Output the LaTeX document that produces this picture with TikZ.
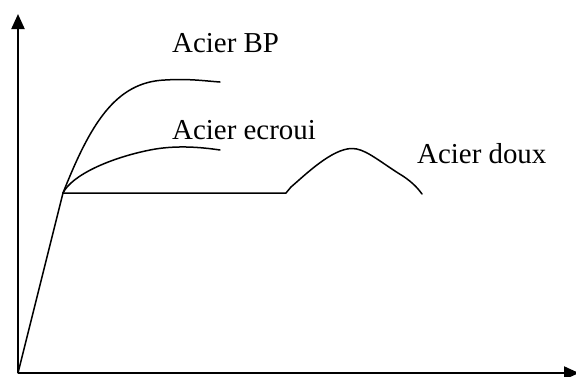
\documentclass[tikz,border=0pt]{standalone}
\usepackage{fontspec}
\setmainfont{Liberation Serif}
\usetikzlibrary{arrows.meta}
\begin{document}
\begin{tikzpicture}[x=1bp,y=-1bp,
  axis/.style={line width=2bp,-{Triangle[length=15bp,width=13bp]}},
  curve/.style={line width=1.5bp,line join=round,line cap=round},
  lbl/.style={anchor=base west,inner sep=0pt,font=\fontsize{29}{32}\selectfont}]
\useasboundingbox (0,0) rectangle (576,376);
\coordinate (O) at (18,373);
\coordinate (ytop) at (18,14);
\coordinate (xend) at (579,373);
\coordinate (Y) at (63,193);
\coordinate (D1) at (286,193);
\coordinate (D2) at (291,187);
\coordinate (P) at (352,148.5);
\coordinate (BPend) at (220,82);
\coordinate (ECend) at (220,150);
\coordinate (Dend) at (422,194);
\draw[axis] (O) -- (ytop);
\draw[axis] (O) -- (xend);
\draw[curve] (O) -- (Y);
\draw[curve] (Y) .. controls (90,125) and (115,82) .. (165,80) .. controls (190,78.5) and (205,81) .. (BPend);
\draw[curve] (Y) .. controls (72,175) and (110,158) .. (150,150) .. controls (175,145) and (200,147) .. (ECend);
\draw[curve] (Y) -- (D1) -- (D2) .. controls (305,175) and (332,148.5) .. (P) .. controls (364,148.5) and (375,158) .. (398,173) .. controls (410,180) and (417,187) .. (Dend);
\node[lbl] (bp) at (172,52) {Acier BP};
\node[lbl] (ec) at (172,139) {Acier ecroui};
\node[lbl] (dx) at (417,163) {Acier doux};
\end{tikzpicture}
\end{document}
